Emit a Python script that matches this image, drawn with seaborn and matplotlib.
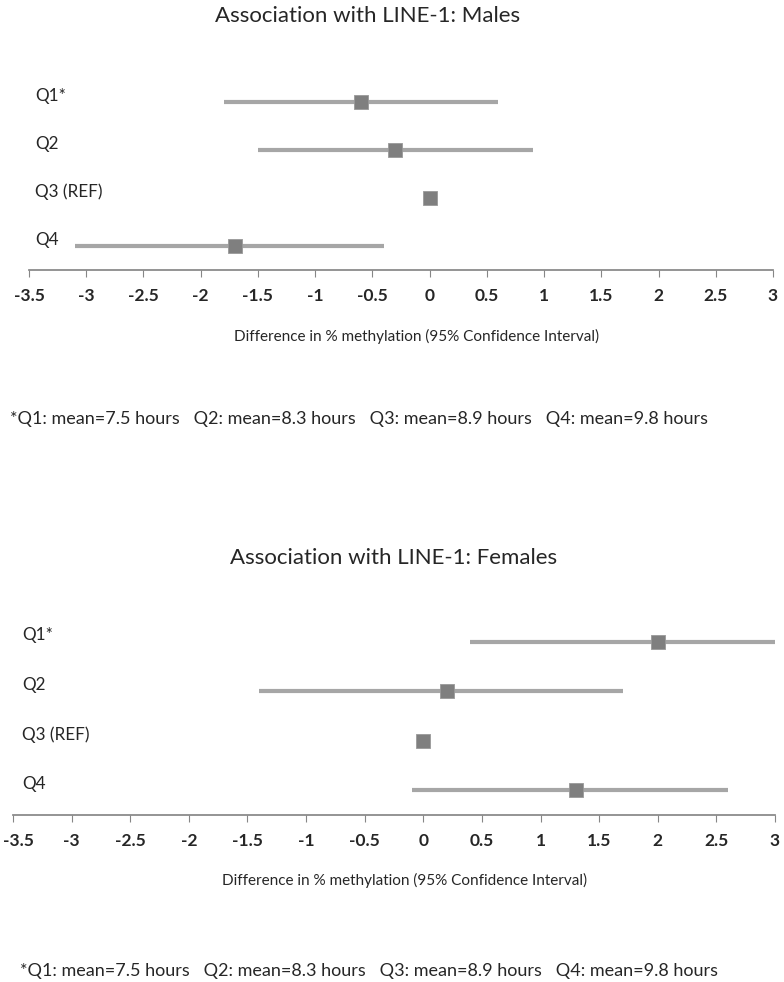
import matplotlib
matplotlib.use("Agg")
import matplotlib.pyplot as plt
import matplotlib.transforms as mtransforms
import seaborn as sns
import pandas as pd
import numpy as np

# data
groups = ['Q1*', 'Q2', 'Q3 (REF)', 'Q4']
male_est = [-0.6, -0.3, 0.0, -1.7]
male_lo = [-1.8, -1.5, np.nan, -3.1]
male_hi = [0.6, 0.9, np.nan, -0.4]
female_est = [2.0, 0.2, 0.0, 1.3]
female_lo = [0.4, -1.4, np.nan, -0.1]
female_hi = [3.0, 1.7, np.nan, 2.6]

xticks = [-3.5, -3, -2.5, -2, -1.5, -1, -0.5, 0, 0.5, 1, 1.5, 2, 2.5, 3]
xticklabels = ['-3.5', '-3', '-2.5', '-2', '-1.5', '-1', '-0.5', '0', '0.5', '1', '1.5', '2', '2.5', '3']
footnote = '*Q1: mean=7.5 hours   Q2: mean=8.3 hours   Q3: mean=8.9 hours   Q4: mean=9.8 hours'
xlab = 'Difference in % methylation (95% Confidence Interval)'

sns.set_theme(style='white')
plt.rcParams['font.family'] = ['Lato', 'DejaVu Sans']

W, H = 784, 982
fig = plt.figure(figsize=(W / 100, H / 100), dpi=100)

line_col = '#A6A6A6'
mark_col = '#7F7F7F'
axis_col = '#868686'


def px(x, y):
    return x / W, 1 - y / H


def forest(rect, est, lo, hi, label_x):
    ax = fig.add_axes(rect)
    df = pd.DataFrame({'group': groups, 'row': [1, 2, 3, 4], 'est': est, 'lo': lo, 'hi': hi})
    ax.hlines(df['row'], df['lo'], df['hi'], color=line_col, lw=3, zorder=1)
    sns.scatterplot(data=df, x='est', y='row', marker='s', s=110, color=mark_col,
                    edgecolor='#9A9A9A', linewidth=0.6, zorder=3, ax=ax, legend=False)
    ax.set_xlim(-3.5, 3)
    ax.set_ylim(4.5, 0.5)
    ax.set_yticks([])
    ax.set_xticks(xticks)
    ax.set_xticklabels(xticklabels, fontweight='bold', fontsize=12.5)
    ax.set_xlabel('')
    ax.set_ylabel('')
    for s in ['left', 'top', 'right']:
        ax.spines[s].set_visible(False)
    ax.spines['bottom'].set_color(axis_col)
    ax.tick_params(axis='x', bottom=True, direction='out', length=5, width=0.8,
                   color=axis_col, pad=8)
    trans = mtransforms.blended_transform_factory(ax.transAxes, ax.transData)
    for r, g in zip(df['row'], df['group']):
        ax.text(label_x, r - 0.13, g, transform=trans, ha='left', va='center', fontsize=12.3)
    return ax


# top panel: males
x0, y0 = px(29, 270)
x1, y1 = px(773, 78)
forest([x0, y0, x1 - x0, y1 - y0], male_est, male_lo, male_hi, 0.008)
fig.text(*px(368, 16), 'Association with LINE-1: Males', ha='center', va='center', fontsize=16)
fig.text(*px(417, 336), xlab, ha='center', va='center', fontsize=11)
fig.text(*px(10, 419), footnote, ha='left', va='center', fontsize=13)

# bottom panel: females
x0, y0 = px(13, 815)
x1, y1 = px(775, 617)
ax2 = forest([x0, y0, x1 - x0, y1 - y0], female_est, female_lo, female_hi, 0.012)
# first tick label sits against the left edge, nudge it inside
first = ax2.get_xticklabels()[0]
first.set_transform(first.get_transform() + mtransforms.ScaledTranslation(0.05, 0, fig.dpi_scale_trans))
fig.text(*px(394, 558), 'Association with LINE-1: Females', ha='center', va='center', fontsize=16)
fig.text(*px(405, 880), xlab, ha='center', va='center', fontsize=11)
fig.text(*px(20, 971), footnote, ha='left', va='center', fontsize=13)

fig.savefig('out.png', dpi=100)
